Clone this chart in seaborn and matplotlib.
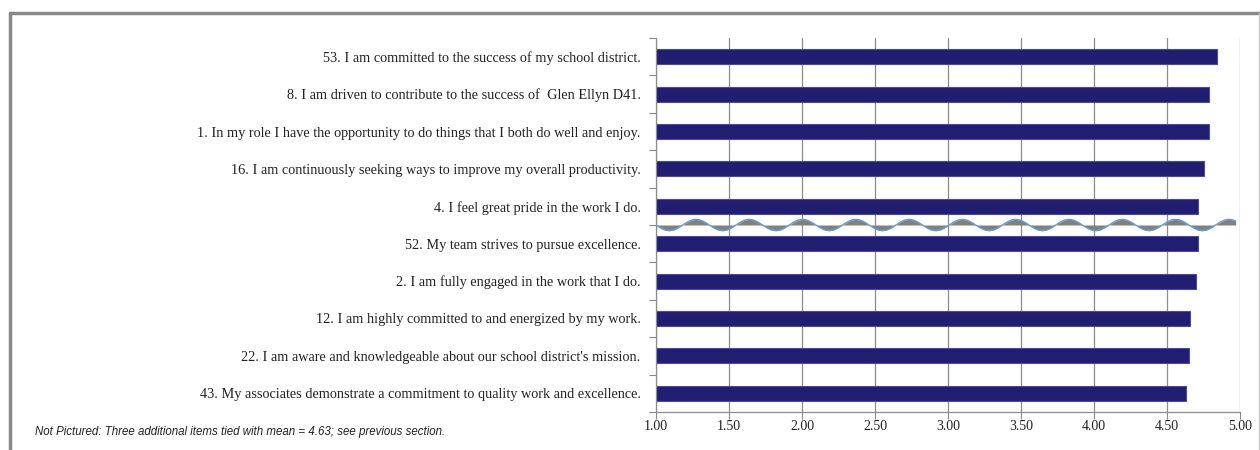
import numpy as np
import pandas as pd
import matplotlib
matplotlib.use("Agg")
import matplotlib.pyplot as plt
import seaborn as sns
from matplotlib.lines import Line2D

# ---- data ----
items = [
    "53. I am committed to the success of my school district.",
    "8. I am driven to contribute to the success of  Glen Ellyn D41.",
    "1. In my role I have the opportunity to do things that I both do well and enjoy.",
    "16. I am continuously seeking ways to improve my overall productivity.",
    "4. I feel great pride in the work I do.",
    "52. My team strives to pursue excellence.",
    "2. I am fully engaged in the work that I do.",
    "12. I am highly committed to and energized by my work.",
    "22. I am aware and knowledgeable about our school district's mission.",
    "43. My associates demonstrate a commitment to quality work and excellence.",
]
means = [4.84, 4.79, 4.79, 4.75, 4.71, 4.71, 4.70, 4.66, 4.65, 4.63]
x_ticks = [1.00, 1.50, 2.00, 2.50, 3.00, 3.50, 4.00, 4.50, 5.00]
x_tick_labels = [f"{v:.2f}" for v in x_ticks]
footnote = "Not Pictured: Three additional items tied with mean = 4.63; see previous section."

df = pd.DataFrame({"item": items, "mean": means})

sns.set_theme(style="white")
plt.rcParams["font.family"] = ["Liberation Serif", "DejaVu Serif"]

fig = plt.figure(figsize=(12.6, 4.5), dpi=100)
ax = fig.add_axes([656/1260, 1-412/450, 584/1260, 374/450])

sns.barplot(data=df, x="mean", y="item", orient="h", ax=ax, color="#211d71",
            width=0.4, edgecolor="#4b4b9c", linewidth=0.8, saturation=1)

ax.set_xlim(1.0, 5.0)
ax.set_ylim(len(items) - 0.5, -0.5)
ax.set_xticks(x_ticks)
ax.set_xticklabels(x_tick_labels, fontsize=10, color="#222222")
ax.set_xlabel("")
ax.set_ylabel("")
ax.tick_params(axis="y", which="major", length=0, labelsize=10.3, pad=11, labelcolor="#222222")
ax.set_yticks(np.arange(-0.5, len(items), 1.0), minor=True)
ax.tick_params(axis="y", which="minor", length=5, width=0.8, color="#888888", left=True)
ax.tick_params(axis="x", which="major", length=5, width=0.8, color="#888888", bottom=True, pad=1)

ax.grid(axis="x", color="#8c8c8c", linewidth=0.9)
ax.grid(axis="y", visible=False)
ax.set_axisbelow(True)
for s in ["top", "right"]:
    ax.spines[s].set_visible(False)
for s in ["left", "bottom"]:
    ax.spines[s].set_color("#8c8c8c")
    ax.spines[s].set_linewidth(0.9)

# axis-break wave (decoration) between items 4 and 52
wx = np.linspace(1.0, 4.97, 600)
yc = 4.5
wy = yc + 0.15 * np.sin(2 * np.pi * (wx - 1.0) / 0.365)
ax.fill_between(wx, yc, wy, color="#808080", zorder=4, linewidth=0)
ax.plot(wx, wy, color="#6a9bd4", linewidth=1.0, zorder=5)

# footnote
fig.text(35/1260, 1-432/450, footnote, fontsize=8.3, style="italic",
         family=["Liberation Sans Narrow", "Liberation Sans", "DejaVu Sans"],
         va="center", ha="left", color="#222222")

# outer frame
fig.add_artist(Line2D([9.5/1260, 9.5/1260], [0, 1-12.5/450], transform=fig.transFigure,
                      color="#888888", linewidth=2.5))
fig.add_artist(Line2D([9.5/1260, 1.0], [1-12.5/450, 1-12.5/450], transform=fig.transFigure,
                      color="#888888", linewidth=2.5))
fig.add_artist(Line2D([1258.5/1260, 1258.5/1260], [0, 1-12.5/450], transform=fig.transFigure,
                      color="#cccccc", linewidth=1.0))

fig.savefig("out.png", dpi=100)
